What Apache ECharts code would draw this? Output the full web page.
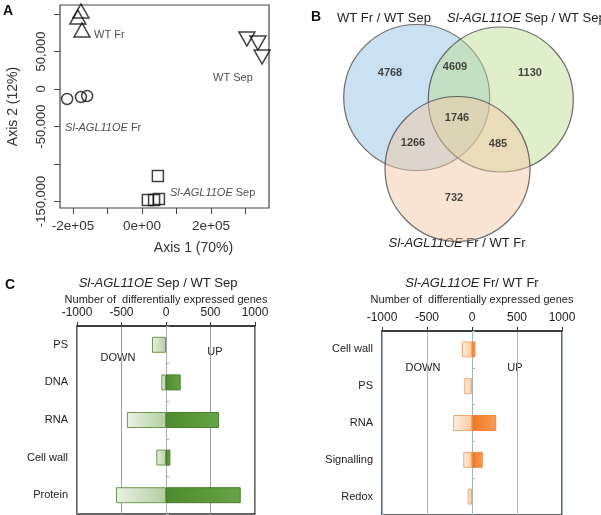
<!DOCTYPE html>
<html>
<head>
<meta charset="utf-8">
<script src="https://cdn.jsdelivr.net/npm/echarts@6/dist/echarts.min.js"></script>
<style>
html, body { margin: 0; padding: 0; background: #fff; }
#main { width: 601px; height: 515px; }
</style>
</head>
<body>
<div id="main"></div>
<script>
const FONT = '"Liberation Sans", Arial, Helvetica, sans-serif';

// A: PCA scores (axis 1, axis 2)
const wtFr = [[-177000, 104000], [-186000, 96000], [-174000, 78700]];
const wtSep = [[304000, 66700], [336000, 61300], [348000, 42700]];
const oeFr = [[-217000, -13300], [-177000, -10700], [-159000, -9300]];
const oeSep = [[46000, -116000], [17000, -148000], [35000, -148000], [49000, -146700]];
const pcaXTicks = [-200000, -100000, 0, 100000, 200000, 300000];
const pcaXLabels = [-200000, 0, 200000];
const pcaYTicks = [-150000, -100000, -50000, 0, 50000, 100000];
const pcaYLabels = [-150000, -50000, 0, 50000];
const pcaGroupNames = ['WT Fr', 'WT Sep', '{i|Sl-AGL11OE} Fr', '{i|Sl-AGL11OE} Sep'];

// B: Venn region counts
const vennSets = ['WT Fr / WT Sep', '{i|Sl-AGL11OE} Sep / WT Sep', '{i|Sl-AGL11OE} Fr / WT Fr'];
const vennRegions = ['A', 'AB', 'B', 'ABC', 'AC', 'BC', 'C'];
const vennCounts = [4768, 4609, 1130, 1746, 1266, 485, 732];

// C: differentially expressed genes per category
const sepCats = ['PS', 'DNA', 'RNA', 'Cell wall', 'Protein'];
const sepDown = [-157, -52, -439, -109, -562];
const sepUp = [0, 165, 596, 49, 840];
const frCats = ['Cell wall', 'PS', 'RNA', 'Signalling', 'Redox'];
const frDown = [-112, -86, -209, -97, -49];
const frUp = [37, 0, 269, 119, 0];

// layout only (not data)
const pcaNotePos = [[-139000, 72000], [206000, 14700], [-223000, -52000], [81000, -138700]];
const vennCirclePos = [[116.7, 97.5], [200.8, 99.5], [157.5, 169]];
const vennFill = ['rgba(146,194,226,0.62)', 'rgba(190,222,146,0.6)', 'rgba(242,198,162,0.6)'];
const vennRegionPos = { A: [90, 73], AB: [155, 67], B: [230, 73], ABC: [157, 118], AC: [113, 143], BC: [198, 144], C: [154, 198] };

const myChart = echarts.init(document.getElementById('main'));

function sci(v) {
	if (v === 0) return '0e+00';
	const e = Math.floor(Math.log10(Math.abs(v)));
	const m = Math.round(v / Math.pow(10, e));
	return m + 'e+' + (e < 10 ? '0' + e : e);
}

function grad(c0, c1) {
	return { type: 'linear', x: 0, y: 0, x2: 1, y2: 0, colorStops: [{ offset: 0, color: c0 }, { offset: 1, color: c1 }] };
}

function pcaSeries(data, symbol, size, rotate) {
	return {
		type: 'scatter',
		xAxisIndex: 0,
		yAxisIndex: 0,
		data: data,
		symbol: symbol,
		symbolSize: size,
		symbolRotate: rotate || 0,
		itemStyle: { color: 'rgba(0,0,0,0)', borderColor: '#111', borderWidth: 1.5 },
		emphasis: { disabled: true }
	};
}

function barX(grid, gap, splitColor) {
	return {
		gridIndex: grid,
		type: 'value',
		position: 'top',
		min: -1000,
		max: 1000,
		interval: 500,
		name: 'Number of  differentially expressed genes',
		nameLocation: 'middle',
		nameGap: gap,
		nameTextStyle: { fontSize: 11, color: '#222', fontFamily: FONT },
		axisLine: { show: true, onZero: false, lineStyle: { color: '#333', width: 1.5 } },
		axisTick: { show: true, length: 4, lineStyle: { color: '#333' } },
		axisLabel: { fontSize: 12, color: '#222', fontFamily: FONT, margin: 7, formatter: function (v) { return String(v); } },
		splitLine: { show: true, lineStyle: { color: splitColor, width: 1 } }
	};
}

function catY(grid, cats) {
	return {
		gridIndex: grid,
		type: 'category',
		data: cats,
		inverse: true,
		axisLine: { show: false, onZero: false },
		axisTick: { show: false },
		axisLabel: { fontSize: 11, color: '#222', fontFamily: FONT, margin: 9 }
	};
}

function zeroY(grid, cats, color) {
	return {
		gridIndex: grid,
		type: 'category',
		data: cats,
		inverse: true,
		axisLine: { show: true, onZero: true, lineStyle: { color: color } },
		axisTick: { show: true, length: 3, lineStyle: { color: color } },
		axisLabel: { show: false }
	};
}

function barSeries(x, y, data, fill, border) {
	return {
		type: 'bar',
		xAxisIndex: x,
		yAxisIndex: y,
		data: data.map(function (v) { return v === 0 ? null : v; }),
		barWidth: 16,
		barGap: '-100%',
		itemStyle: { color: fill, borderColor: border, borderWidth: 1 },
		emphasis: { disabled: true }
	};
}

function txt(text, x, y, size, opts) {
	opts = opts || {};
	return {
		type: 'text',
		x: x,
		y: y,
		style: {
			text: text,
			fontSize: size,
			fontFamily: FONT,
			fontWeight: opts.bold ? 'bold' : 'normal',
			fill: opts.color || '#222',
			align: opts.align || 'center',
			verticalAlign: 'middle',
			rich: { i: { fontStyle: 'italic', fontSize: size, fontFamily: FONT, fill: opts.color || '#222' } }
		}
	};
}

const option = {
	animation: false,
	grid: [
		{ left: 60, top: 5, width: 209, height: 203, show: true, borderColor: '#444', borderWidth: 1.2 },
		{ left: 300, top: 0, width: 300, height: 300 },
		{ left: 77, top: 326, width: 178, height: 188, show: true, borderColor: '#333', borderWidth: 1.5 },
		{ left: 382, top: 331, width: 180, height: 184, show: true, borderColor: '#333', borderWidth: 1.5 }
	],
	xAxis: [
		{
			gridIndex: 0,
			type: 'value',
			position: 'bottom',
			min: -237700,
			max: 368100,
			name: 'Axis 1 (70%)',
			nameLocation: 'middle',
			nameGap: 33,
			nameTextStyle: { fontSize: 14, color: '#333', fontFamily: FONT, padding: [0, 0, 0, 58] },
			axisLine: { show: false, onZero: false },
			splitLine: { show: false },
			axisTick: { show: true, length: 6, lineStyle: { color: '#444' }, customValues: pcaXTicks },
			axisLabel: { customValues: pcaXLabels, formatter: sci, fontSize: 13.5, color: '#333', fontFamily: FONT, margin: 11 }
		},
		{ gridIndex: 1, type: 'value', min: 0, max: 300, show: false },
		barX(2, 21, '#9d9d9d'),
		barX(3, 26, '#a2b4bd')
	],
	yAxis: [
		{
			gridIndex: 0,
			type: 'value',
			position: 'left',
			min: -158700,
			max: 112000,
			name: 'Axis 2 (12%)',
			nameLocation: 'middle',
			nameGap: 40,
			nameTextStyle: { fontSize: 14, color: '#333', fontFamily: FONT },
			axisLine: { show: false, onZero: false },
			splitLine: { show: false },
			axisTick: { show: true, length: 6, lineStyle: { color: '#444' }, customValues: pcaYTicks },
			axisLabel: { customValues: pcaYLabels, rotate: 90, fontSize: 13, color: '#333', fontFamily: FONT, margin: 12 }
		},
		{ gridIndex: 1, type: 'value', min: 0, max: 300, inverse: true, show: false },
		catY(2, sepCats),
		catY(3, frCats),
		zeroY(2, sepCats, '#aaaaaa'),
		zeroY(3, frCats, '#a2b4bd')
	],
	series: [
		pcaSeries(wtFr, 'triangle', [16, 14]),
		pcaSeries(wtSep, 'triangle', [16, 14], 180),
		pcaSeries(oeFr, 'circle', 11),
		pcaSeries(oeSep, 'rect', 11),
		{
			type: 'scatter',
			xAxisIndex: 0,
			yAxisIndex: 0,
			symbolSize: 0,
			silent: true,
			data: pcaGroupNames.map(function (n, i) { return { value: pcaNotePos[i], name: n }; }),
			label: {
				show: true,
				position: 'right',
				distance: 0,
				formatter: function (p) { return p.name; },
				fontSize: 11,
				color: '#222',
				fontFamily: FONT,
				rich: { i: { fontStyle: 'italic', fontSize: 11, color: '#222', fontFamily: FONT } }
			}
		},
		{
			type: 'scatter',
			xAxisIndex: 1,
			yAxisIndex: 1,
			silent: true,
			data: vennSets.map(function (s, i) {
				return {
					value: vennCirclePos[i],
					symbolSize: i === 0 ? 146 : 145,
					itemStyle: { color: vennFill[i], borderColor: '#4a4a4a', borderWidth: 1.2 }
				};
			})
		},
		{
			type: 'scatter',
			xAxisIndex: 1,
			yAxisIndex: 1,
			symbolSize: 0,
			silent: true,
			data: vennRegions.map(function (r, i) { return { value: vennRegionPos[r], name: String(vennCounts[i]) }; }),
			label: {
				show: true,
				position: 'inside',
				formatter: '{b}',
				fontSize: 11,
				fontWeight: 'bold',
				color: '#1a1a1a',
				fontFamily: FONT
			}
		},
		barSeries(2, 2, sepDown, grad('#e9f1e3', '#b4cea1'), '#6a9a50'),
		barSeries(2, 2, sepUp, grad('#4e8b2f', '#67a445'), '#4b7d2f'),
		barSeries(3, 3, frDown, grad('#fff0e3', '#fbc99f'), '#f3a672'),
		barSeries(3, 3, frUp, grad('#ee7823', '#f79b57'), '#ef873a')
	],
	graphic: [
		txt('A', 8, 11, 14, { bold: true, color: '#111' }),
		txt('B', 316, 17, 14, { bold: true, color: '#111' }),
		txt('C', 10, 285, 14, { bold: true, color: '#111' }),
		txt(vennSets[0], 337, 18, 13, { align: 'left' }),
		txt(vennSets[1], 447, 18, 13, { align: 'left' }),
		txt(vennSets[2], 457, 243, 13),
		txt('{i|Sl-AGL11OE} Sep / WT Sep', 158, 283, 13),
		txt('{i|Sl-AGL11OE} Fr/ WT Fr', 472, 283, 13),
		txt('DOWN', 118, 358, 11),
		txt('UP', 215, 352, 11),
		txt('DOWN', 423, 368, 11),
		txt('UP', 515, 368, 11)
	]
};

myChart.setOption(option);
</script>
</body>
</html>
